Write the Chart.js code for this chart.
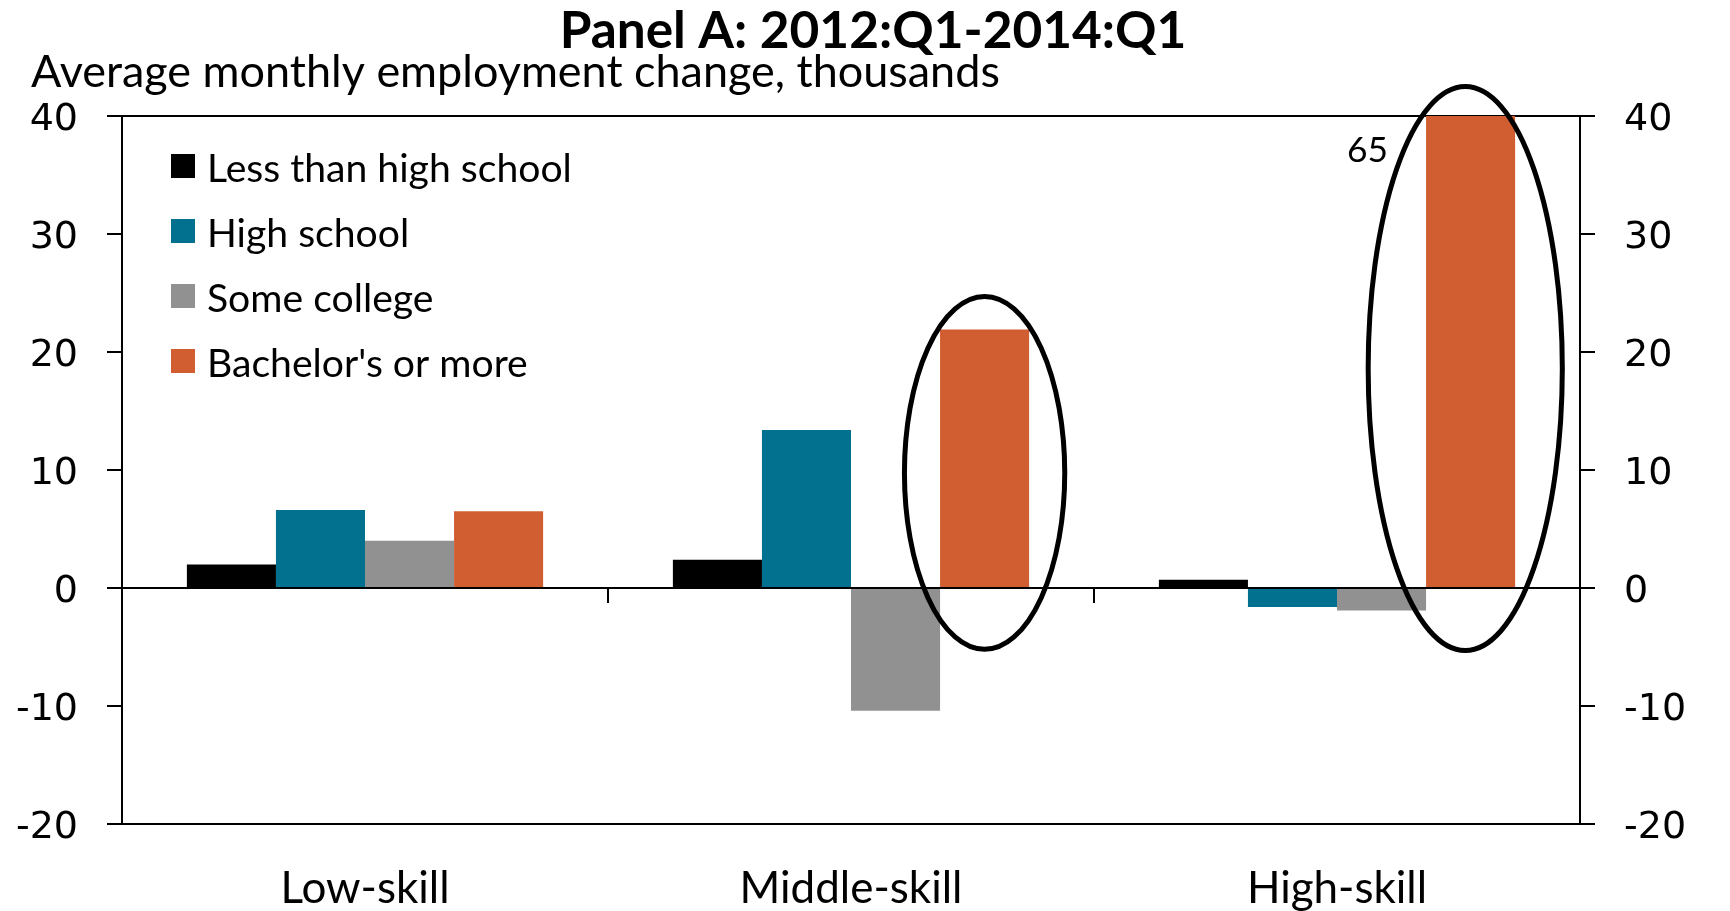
<!DOCTYPE html>
<html>
<head>
<meta charset="utf-8">
<title>Panel A: 2012:Q1-2014:Q1</title>
<script src="https://cdn.jsdelivr.net/npm/chart.js@4.4.0/dist/chart.umd.min.js"></script>
<style>
  html, body { margin: 0; padding: 0; background: #fff; }
  #wrap { width: 1730px; height: 911px; position: relative; }
</style>
</head>
<body>
<div id="wrap"><canvas id="panelChart"></canvas></div>
<script>
// Data
const categories = ['Low-skill', 'Middle-skill', 'High-skill'];
const seriesNames = ['Less than high school', 'High school', 'Some college', "Bachelor's or more"];
const lessThanHighSchool = [2.0, 2.4, 0.7];
const highSchool = [6.6, 13.4, -1.6];
const someCollege = [4.0, -10.4, -1.9];
const bachelorsOrMore = [6.5, 21.9, 65];
const yTicks = [-20, -10, 0, 10, 20, 30, 40];

const seriesColors = ['#000000', '#02708f', '#919191', '#d05e31'];
const titleText = 'Panel A: 2012:Q1-2014:Q1';
const subtitleText = 'Average monthly employment change, thousands';

// circled bars of the last series: top / bottom of the ring in axis units
const circled = [
  { index: 1, top: 24.7, bottom: -5.2, half: 0.9, shift: 0 },
  { index: 2, top: 42.5, bottom: -5.3, half: 1.09, shift: -0.06 }
];

const textFont = 'Lato, "Open Sans", sans-serif';
const tickFont = '"DejaVu Sans", Verdana, sans-serif';

// pick a font size so a string takes the same width as in the reference
const measureCtx = document.createElement('canvas').getContext('2d');
function fitSize(text, width, weight) {
  measureCtx.font = `${weight} 100px ${textFont}`;
  return 100 * width / measureCtx.measureText(text).width;
}
const titleSize = fitSize(titleText, 627, 'bold');
const subtitleSize = fitSize(subtitleText, 969, 'normal');
const legendSize = fitSize(seriesNames[0], 365, 'normal');
const catSize = fitSize(categories[1], 223, 'normal');
const labelSize = fitSize('65', 41, 'normal');

/* ==========================
   EXTRA DRAWING
========================== */
const decorations = {
  id: 'decorations',
  afterDatasetsDraw(chart) {
    const { ctx, chartArea, scales: { x, y } } = chart;
    ctx.save();

    // zero line and category dividers
    const zeroY = y.getPixelForValue(0);
    ctx.strokeStyle = '#000';
    ctx.lineWidth = 2;
    ctx.beginPath();
    ctx.moveTo(chartArea.left, zeroY);
    ctx.lineTo(chartArea.right, zeroY);
    ctx.stroke();
    for (let i = 1; i < categories.length; i++) {
      const bx = (x.getPixelForValue(i - 1) + x.getPixelForValue(i)) / 2;
      ctx.beginPath();
      ctx.moveTo(bx, zeroY);
      ctx.lineTo(bx, zeroY + 15);
      ctx.stroke();
    }

    // rings round the bachelor's bars
    const meta = chart.getDatasetMeta(3);
    ctx.lineWidth = 5;
    circled.forEach(c => {
      const bar = meta.data[c.index];
      const top = y.getPixelForValue(c.top);
      const bottom = y.getPixelForValue(c.bottom);
      ctx.beginPath();
      ctx.ellipse(bar.x + bar.width * c.shift, (top + bottom) / 2, bar.width * c.half, (bottom - top) / 2, 0, 0, Math.PI * 2);
      ctx.stroke();
    });

    // value of bars cut off by the axis
    ctx.fillStyle = '#000';
    ctx.font = `${labelSize}px ${textFont}`;
    ctx.textAlign = 'right';
    ctx.textBaseline = 'alphabetic';
    bachelorsOrMore.forEach((v, i) => {
      if (v > y.max) {
        const bar = meta.data[i];
        ctx.fillText(String(v), bar.x - bar.width / 2 - 38, chartArea.top + 46);
      }
    });
    ctx.restore();
  },
  afterDraw(chart) {
    const { ctx, chartArea } = chart;
    ctx.save();
    ctx.fillStyle = '#000';
    ctx.textBaseline = 'alphabetic';

    // title + subtitle
    ctx.font = `bold ${titleSize}px ${textFont}`;
    ctx.textAlign = 'center';
    ctx.fillText(titleText, 873, 48);
    ctx.font = `${subtitleSize}px ${textFont}`;
    ctx.textAlign = 'left';
    ctx.fillText(subtitleText, 31, 87);

    // legend
    ctx.font = `${legendSize}px ${textFont}`;
    chart.data.datasets.forEach((ds, i) => {
      const top = chartArea.top + 38 + i * 65;
      ctx.fillStyle = ds.backgroundColor;
      ctx.fillRect(chartArea.left + 49, top, 24, 24);
      ctx.fillStyle = '#000';
      ctx.fillText(ds.label, chartArea.left + 85, top + 28);
    });
    ctx.restore();
  }
};

/* ==========================
   CHART
========================== */
const seriesValues = [lessThanHighSchool, highSchool, someCollege, bachelorsOrMore];
const edgeLine = c => (c.tick.value === yTicks[0] || c.tick.value === yTicks[yTicks.length - 1] || c.tick.value === 0) ? '#000' : 'rgba(0,0,0,0)';

function yAxis(position, width) {
  return {
    type: 'linear',
    position: position,
    min: yTicks[0],
    max: yTicks[yTicks.length - 1],
    afterBuildTicks: axis => { axis.ticks = yTicks.map(v => ({ value: v })); },
    afterFit: axis => { axis.width = width; },
    grid: {
      drawOnChartArea: position === 'left',
      color: edgeLine,
      lineWidth: 2,
      tickColor: '#000',
      tickWidth: 2,
      tickLength: 15
    },
    border: { display: true, color: '#000', width: 2 },
    ticks: {
      color: '#000',
      padding: 29,
      labelOffset: 4,
      font: { family: tickFont, size: 38 }
    }
  };
}

const ctx = document.getElementById('panelChart').getContext('2d');
new Chart(ctx, {
  type: 'bar',
  data: {
    labels: categories,
    datasets: seriesValues.map((vals, i) => ({
      label: seriesNames[i],
      data: vals,
      backgroundColor: seriesColors[i],
      borderWidth: 0,
      barPercentage: 1,
      categoryPercentage: 0.733,
      clip: 0
    }))
  },
  options: {
    responsive: true,
    maintainAspectRatio: false,
    animation: false,
    layout: { padding: { top: 116, left: 0, right: 0, bottom: 0 } },
    plugins: {
      legend: { display: false },
      title: { display: false },
      tooltip: { enabled: false }
    },
    scales: {
      x: {
        grid: { display: false, drawTicks: false },
        border: { display: false },
        afterFit: axis => { axis.height = 87; },
        ticks: {
          color: '#000',
          padding: 38,
          font: { family: textFont, size: catSize }
        }
      },
      y: yAxis('left', 122),
      y2: yAxis('right', 150)
    }
  },
  plugins: [decorations]
});
</script>
</body>
</html>
